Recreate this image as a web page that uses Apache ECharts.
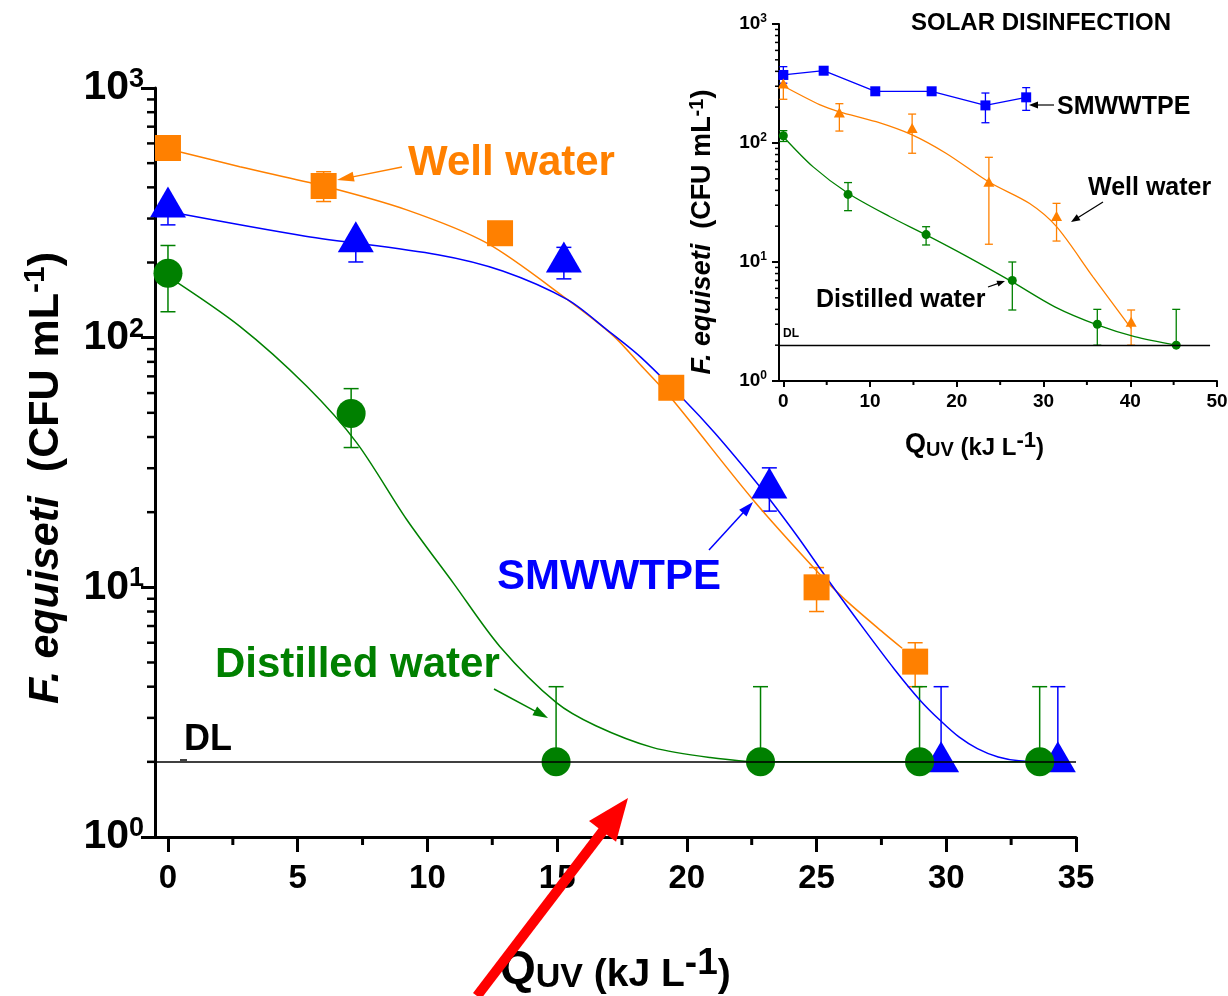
<!DOCTYPE html>
<html>
<head>
<meta charset="utf-8">
<script src="https://cdn.jsdelivr.net/npm/echarts@6/dist/echarts.min.js"></script>
<style>html,body{margin:0;padding:0;background:#fff}#chart{width:1228px;height:996px}</style>
</head>
<body>
<div id="chart"></div>
<script>
// F. equiseti inactivation vs Q_UV, main plot + SODIS inset

const FONT = '"Liberation Sans", Arial, Helvetica, sans-serif'
const ORANGE = '#ff8000', BLUE = '#0000ff', GREEN = '#008000'
const DL = 2

// ---- main chart data ----
const wellX = [0, 6, 12.8, 19.4, 25, 28.8]
const wellY = [575, 405, 262, 63, 10, 5.04]
const wellErrX = [6, 25, 28.8]
const wellErrLo = [351, 8, 4]
const wellErrHi = [462, 12, 6]

const smwX = [0, 7.24, 15.26, 23.18, 29.8, 34.3]
const smwY = [334, 242, 201, 25, 2, 2]
const smwErrLo = [283, 201, 172, 20.2, 2, 2]
const smwErrHi = [334, 242, 230, 30.1, 4, 4]

const distX = [0, 7.06, 14.96, 22.84, 28.97, 33.6]
const distY = [181, 49.7, 2, 2, 2, 2]
const distErrLo = [127, 36.3, 2, 2, 2, 2]
const distErrHi = [234, 62.5, 4, 4, 4, 4]

// fitted curves
const wellFitX = [0, 2.77, 6, 9.2, 12.3, 15.4, 17.2, 18.2, 19.44, 22.54, 25.05, 26.09, 27.56, 28.3]
const wellFitY = [570, 484, 405, 325, 239, 142, 101, 78, 56.5, 22.5, 11.5, 8.95, 6.6, 5.7]
const smwFitX = [0, 5.3, 10.4, 12.9, 15.4, 16.9, 18.2, 19.88, 21.07, 22.47, 23.14, 24.3, 25.5, 26.83, 28.0, 28.97, 29.78, 30.5, 31.2, 32.0, 32.8, 34.3]
const smwFitY = [320, 255, 215, 185, 142, 108, 84, 56.5, 41.6, 28, 22.9, 15.8, 10.5, 6.8, 4.7, 3.55, 2.92, 2.51, 2.26, 2.09, 2.02, 2.0]
const distFitX = [0, 2.77, 5.34, 7.27, 9.2, 11, 12.79, 14.96, 16.49, 18.7, 20.9, 22.84, 33.6]
const distFitY = [176, 111, 64, 38, 18.7, 10.4, 5.8, 3.46, 2.79, 2.28, 2.08, 2.0, 2.0]

// ---- inset (solar disinfection) data ----
const solSmwX = [0, 4.65, 10.6, 17.1, 23.3, 28.0]
const solSmwY = [373, 405, 272, 272, 207, 242]
const solSmwErrX = [0, 23.3, 28.0]
const solSmwErrLo = [318, 148, 188]
const solSmwErrHi = [438, 263, 292]

const solWellX = [0, 6.46, 14.85, 23.7, 31.5, 40.1]
const solWellY = [307, 175, 130, 45.8, 23.6, 3.05]
const solWellErrLo = [233, 126, 82, 14.1, 15, 2]
const solWellErrHi = [361, 214, 175, 75.8, 31.1, 3.95]

const solDistX = [0, 7.46, 16.46, 26.4, 36.2, 45.3]
const solDistY = [115, 37, 17, 7.0, 3.0, 2.0]
const solDistErrLo = [103, 27, 13.9, 3.95, 2, 2]
const solDistErrHi = [127, 46.5, 19.8, 10, 4, 4]

const solWellFitX = [0, 4.24, 6.46, 10.7, 14.85, 18.75, 23.7, 28.4, 31.5, 35.7, 40.1]
const solWellFitY = [301, 209, 183, 151, 117, 82, 47, 31, 19.8, 7.5, 2.77]
const solDistFitX = [0, 3.44, 7.46, 12.3, 16.46, 21.2, 26.4, 31.3, 36.2, 40.5, 45.3]
const solDistFitY = [113, 63, 37.8, 24, 16.9, 11.1, 6.8, 4.2, 2.96, 2.36, 2.0]

// ticks
const mainXTicks = [0, 5, 10, 15, 20, 25, 30, 35]
const mainXMinor = [2.5, 7.5, 12.5, 17.5, 22.5, 27.5, 32.5]
const solXTicks = [0, 10, 20, 30, 40, 50]
const solXMinor = [5, 15, 25, 35, 45]
const yMinor = [2, 3, 4, 5, 6, 7, 8, 9, 20, 30, 40, 50, 60, 70, 80, 90, 200, 300, 400, 500, 600, 700, 800, 900]

const pairs = (xs, ys) => xs.map((x, i) => [x, ys[i]])

function errorBars(xs, lo, hi, color, cap, width, axis) {
  return {
    type: 'custom', xAxisIndex: axis, yAxisIndex: axis, z: 2, silent: true, clip: false,
    data: xs.map((x, i) => [x, lo[i], hi[i]]),
    encode: { x: 0, y: [1, 2] },
    renderItem: (params, api) => {
      const a = api.coord([api.value(0), api.value(1)])
      const b = api.coord([api.value(0), api.value(2)])
      const h = cap / 2
      const st = { stroke: color, lineWidth: width }
      return {
        type: 'group', children: [
          { type: 'line', shape: { x1: a[0], y1: a[1], x2: b[0], y2: b[1] }, style: st },
          { type: 'line', shape: { x1: a[0] - h, y1: a[1], x2: a[0] + h, y2: a[1] }, style: st },
          { type: 'line', shape: { x1: b[0] - h, y1: b[1], x2: b[0] + h, y2: b[1] }, style: st }
        ]
      }
    }
  }
}

// minor ticks drawn through the axis scales
function minorTicks(vals, dir, fixed, len, width, axis) {
  return {
    type: 'custom', xAxisIndex: axis, yAxisIndex: axis, z: 5, silent: true, clip: false,
    data: vals.map(v => dir === 'x' ? [v, fixed] : [fixed, v]),
    renderItem: (params, api) => {
      const p = api.coord([api.value(0), api.value(1)])
      const shape = dir === 'x'
        ? { x1: p[0], y1: p[1], x2: p[0], y2: p[1] + len }
        : { x1: p[0] - len, y1: p[1], x2: p[0], y2: p[1] }
      return { type: 'line', shape, style: { stroke: '#000', lineWidth: width } }
    }
  }
}

function fitLine(xs, ys, color, width, axis, extra) {
  return Object.assign({
    type: 'line', xAxisIndex: axis, yAxisIndex: axis, data: pairs(xs, ys),
    smooth: 0.3, showSymbol: false, symbol: 'none', silent: true, z: 3,
    lineStyle: { color, width }
  }, extra || {})
}

function marks(xs, ys, color, symbol, size, axis, offset) {
  return {
    type: 'scatter', xAxisIndex: axis, yAxisIndex: axis, data: pairs(xs, ys),
    symbol, symbolSize: size, symbolOffset: offset || [0, 0], silent: true, z: 4,
    itemStyle: { color, opacity: 1 }
  }
}

function arrow(x1, y1, x2, y2, color, w, hl, hw) {
  const L = Math.hypot(x2 - x1, y2 - y1), ux = (x2 - x1) / L, uy = (y2 - y1) / L
  const bx = x2 - ux * hl, by = y2 - uy * hl
  return [
    { type: 'line', z: 20, shape: { x1, y1, x2: bx + ux, y2: by + uy }, style: { stroke: color, lineWidth: w } },
    { type: 'polygon', z: 20, shape: { points: [[x2, y2], [bx - uy * hw, by + ux * hw], [bx + uy * hw, by - ux * hw]] }, style: { fill: color } }
  ]
}

function label(text, x, y, size, color, extra) {
  return {
    type: 'text', x, y, z: 20,
    style: Object.assign({
      text, fill: color, fontSize: size, fontWeight: 'bold', fontFamily: FONT,
      align: 'left', verticalAlign: 'middle', textAlign: 'left', textVerticalAlign: 'middle'
    }, extra || {})
  }
}

const txt = (size, extra) => Object.assign({ fontSize: size, fontWeight: 'bold', fontFamily: FONT, color: '#000' }, extra || {})

function powLabel(v) {
  return '{b|10}{s|' + Math.round(Math.log10(v)) + '}'
}

const chart = echarts.init(document.getElementById('chart'), null, { renderer: 'canvas' })

const option = {
  animation: false,
  backgroundColor: '#fff',
  grid: [
    { left: 155, top: 88, width: 921, height: 749, containLabel: false, outerBoundsMode: 'none' },
    { left: 779, top: 24, width: 438, height: 357, containLabel: false, outerBoundsMode: 'none' }
  ],
  xAxis: [
    {
      type: 'value', gridIndex: 0, min: -0.5, max: 35,
      axisLine: { onZero: false, lineStyle: { color: '#000', width: 3 } },
      axisTick: { customValues: mainXTicks, length: 15, lineStyle: { color: '#000', width: 3 } },
      axisLabel: { customValues: mainXTicks, margin: 25, fontSize: 33, fontWeight: 'bold', fontFamily: FONT, color: '#000' },
      splitLine: { show: false }
    },
    {
      type: 'value', gridIndex: 1, min: -0.5, max: 50,
      axisLine: { onZero: false, lineStyle: { color: '#000', width: 2 } },
      axisTick: { customValues: solXTicks, length: 6, lineStyle: { color: '#000', width: 2 } },
      axisLabel: { customValues: solXTicks, margin: 11, fontSize: 19, fontWeight: 'bold', fontFamily: FONT, color: '#000' },
      splitLine: { show: false }
    }
  ],
  yAxis: [
    {
      type: 'log', logBase: 10, gridIndex: 0, min: 1, max: 1000,
      axisLine: { show: true, onZero: false, lineStyle: { color: '#000', width: 3 } },
      axisTick: { show: true, length: 14, lineStyle: { color: '#000', width: 3 } },
      axisLabel: {
        margin: 11, formatter: powLabel,
        rich: { b: txt(41, { lineHeight: 44 }), s: txt(27, { lineHeight: 4, verticalAlign: 'top' }) }
      },
      splitLine: { show: false }
    },
    {
      type: 'log', logBase: 10, gridIndex: 1, min: 1, max: 1000,
      axisLine: { show: true, onZero: false, lineStyle: { color: '#000', width: 2 } },
      axisTick: { show: true, length: 7, lineStyle: { color: '#000', width: 2 } },
      axisLabel: {
        margin: 12, formatter: powLabel,
        rich: { b: txt(19, { lineHeight: 22 }), s: txt(12, { lineHeight: 12, verticalAlign: 'top' }) }
      },
      splitLine: { show: false }
    }
  ],
  series: [
    // main
    errorBars(wellErrX, wellErrLo, wellErrHi, ORANGE, 15, 1.5, 0),
    errorBars(smwX, smwErrLo, smwErrHi, BLUE, 15, 1.5, 0),
    errorBars(distX, distErrLo, distErrHi, GREEN, 15, 1.5, 0),
    fitLine(wellFitX, wellFitY, ORANGE, 1.5, 0),
    fitLine(smwFitX, smwFitY, BLUE, 1.5, 0),
    fitLine(distFitX, distFitY, GREEN, 1.5, 0, {
      markLine: {
        silent: true, symbol: 'none', label: { show: false }, animation: false,
        lineStyle: { color: '#000', width: 1.5, type: 'solid' },
        data: [[{ coord: [-0.5, DL] }, { coord: [35, DL] }]]
      }
    }),
    marks(wellX, wellY, ORANGE, 'rect', 26, 0),
    marks(smwX, smwY, BLUE, 'triangle', [36, 31], 0, [0, -5]),
    marks(distX, distY, GREEN, 'circle', 29, 0),
    minorTicks(mainXMinor, 'x', 1, 8, 3, 0),
    minorTicks(yMinor, 'y', -0.5, 8, 2.5, 0),
    // inset
    errorBars(solSmwErrX, solSmwErrLo, solSmwErrHi, BLUE, 8, 1.3, 1),
    errorBars(solWellX, solWellErrLo, solWellErrHi, ORANGE, 8, 1.3, 1),
    errorBars(solDistX, solDistErrLo, solDistErrHi, GREEN, 8, 1.3, 1),
    {
      type: 'line', xAxisIndex: 1, yAxisIndex: 1, data: pairs(solSmwX, solSmwY), z: 4, silent: true,
      symbol: 'rect', symbolSize: 10, showSymbol: true, itemStyle: { color: BLUE }, lineStyle: { color: BLUE, width: 1.3 }
    },
    fitLine(solWellFitX, solWellFitY, ORANGE, 1.3, 1),
    fitLine(solDistFitX, solDistFitY, GREEN, 1.3, 1, {
      markLine: {
        silent: true, symbol: 'none', label: { show: false }, animation: false,
        lineStyle: { color: '#000', width: 1.3, type: 'solid' },
        data: [[{ coord: [-0.5, DL] }, { coord: [49.2, DL] }]]
      }
    }),
    marks(solWellX, solWellY, ORANGE, 'triangle', [11, 10], 1, [0, -1.5]),
    marks(solDistX, solDistY, GREEN, 'circle', 9, 1),
    minorTicks(solXMinor, 'x', 1, 4, 2, 1),
    minorTicks(yMinor, 'y', -0.5, 4, 1.5, 1)
  ],
  graphic: {
    elements: [
      // main annotations
      label('Well water', 408, 163, 42, ORANGE),
      ...arrow(402, 167, 337, 180, ORANGE, 1.5, 17, 5),
      label('SMWWTPE', 497, 577, 42, BLUE),
      ...arrow(709, 550, 753, 502, BLUE, 1.5, 15, 5),
      label('Distilled water', 215, 665, 42, GREEN),
      ...arrow(494, 689, 548, 718, GREEN, 1.5, 15, 5),
      label('DL', 184, 740, 36, '#000'),
      { type: 'line', z: 20, shape: { x1: 180, y1: 760, x2: 187, y2: 760 }, style: { stroke: '#000', lineWidth: 1.5 } },
      // axis titles, main
      {
        type: 'text', x: 46, y: 478, rotation: Math.PI / 2, z: 20,
        style: {
          text: '{i|F. equiseti}{n|  (CFU mL}{s|-1}{n|)}',
          align: 'center', verticalAlign: 'middle', textAlign: 'center', textVerticalAlign: 'middle',
          rich: {
            i: txt(43, { fontStyle: 'italic', lineHeight: 50 }),
            n: txt(43, { lineHeight: 50 }),
            s: txt(30, { lineHeight: 22, verticalAlign: 'top' })
          }
        }
      },
      {
        type: 'text', x: 500, y: 970, z: 20,
        style: {
          text: '{q|Q}{u|UV}{n| (kJ L}{s|-1}{n|)}',
          align: 'left', verticalAlign: 'middle', textAlign: 'left', textVerticalAlign: 'middle',
          rich: {
            q: txt(46, { lineHeight: 50 }),
            u: txt(34, { lineHeight: 28, verticalAlign: 'bottom' }),
            n: txt(39, { lineHeight: 44, verticalAlign: 'bottom' }),
            s: txt(37, { lineHeight: 24, verticalAlign: 'top' })
          }
        }
      },
      // red arrow
      ...arrow(477, 996, 628, 798, '#ff0000', 10, 42, 17),
      // inset annotations
      label('SOLAR DISINFECTION', 911, 23, 24, '#000'),
      label('SMWWTPE', 1057, 107, 25, '#000'),
      ...arrow(1054, 105, 1029, 105, '#000', 1.2, 9, 3.5),
      label('Well water', 1088, 188, 25, '#000'),
      ...arrow(1103, 202, 1071, 222, '#000', 1.2, 9, 3.5),
      label('Distilled water', 816, 300, 25, '#000'),
      ...arrow(988, 287, 1005, 281, '#000', 1.2, 8, 3),
      label('DL', 783, 334, 12, '#000'),
      {
        type: 'text', x: 703, y: 232, rotation: Math.PI / 2, z: 20,
        style: {
          text: '{i|F. equiseti}{n|  (CFU mL}{s|-1}{n|)}',
          align: 'center', verticalAlign: 'middle', textAlign: 'center', textVerticalAlign: 'middle',
          rich: {
            i: txt(27, { fontStyle: 'italic', lineHeight: 32 }),
            n: txt(27, { lineHeight: 32 }),
            s: txt(20, { lineHeight: 14, verticalAlign: 'top' })
          }
        }
      },
      {
        type: 'text', x: 905, y: 445, z: 20,
        style: {
          text: '{q|Q}{u|UV}{n| (kJ L}{s|-1}{n|)}',
          align: 'left', verticalAlign: 'middle', textAlign: 'left', textVerticalAlign: 'middle',
          rich: {
            q: txt(27, { lineHeight: 30 }),
            u: txt(20, { lineHeight: 16, verticalAlign: 'bottom' }),
            n: txt(24, { lineHeight: 27, verticalAlign: 'bottom' }),
            s: txt(22, { lineHeight: 16, verticalAlign: 'top' })
          }
        }
      }
    ]
  }
}

chart.setOption(option)
</script>
</body>
</html>
